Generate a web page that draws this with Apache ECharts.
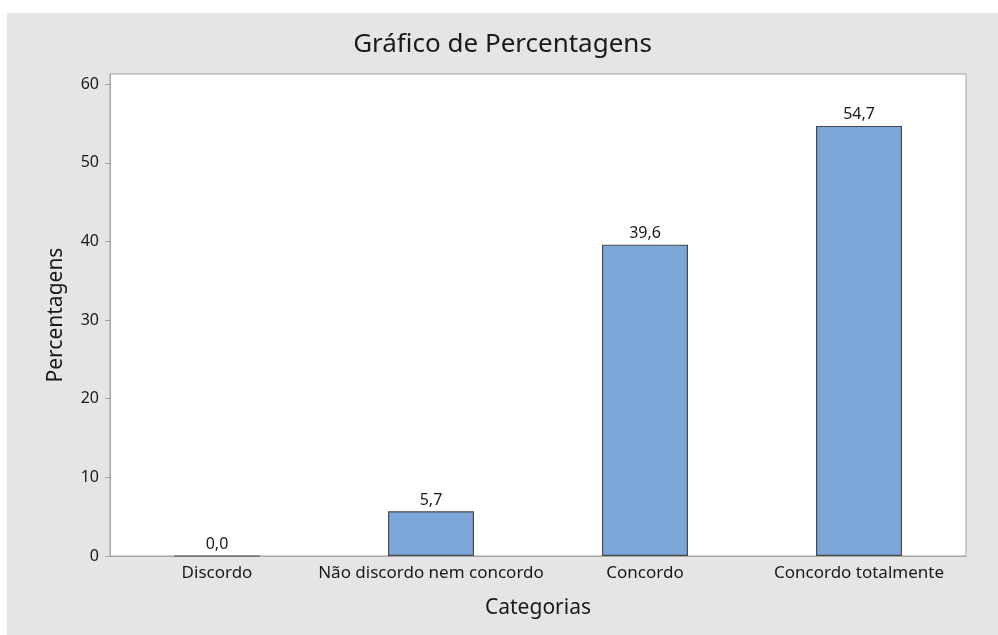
<!DOCTYPE html>
<html>
<head>
<meta charset="utf-8">
<script src="https://cdn.jsdelivr.net/npm/echarts@6/dist/echarts.min.js"></script>
<style>
  html, body { margin: 0; padding: 0; background: #fff; }
  #grafico {
    position: absolute;
    left: 7px;
    top: 13px;
    width: 991px;
    height: 622px;
    background-color: #e5e5e5;
  }
</style>
</head>
<body>
<div id="grafico"></div>
<script>
// dados
var categorias = ["Discordo", "Não discordo nem concordo", "Concordo", "Concordo totalmente"];
var percentagens = [0.0, 5.7, 39.6, 54.7];
var yMin = 0;
var yMax = 61.3;
var yIntervalo = 10;

var fonte = "Noto Sans";
var chart = echarts.init(document.getElementById("grafico"));

var option = {
  animation: false,
  title: {
    text: "Gráfico de Percentagens",
    left: "center",
    top: 14,
    textStyle: { fontFamily: fonte, fontSize: 26, fontWeight: "normal", color: "#1a1a1a" }
  },
  grid: {
    left: 103,
    right: 32,
    top: 61,
    bottom: 79,
    show: true,
    backgroundColor: "#ffffff",
    borderColor: "#a6a6a6",
    borderWidth: 1
  },
  xAxis: {
    type: "category",
    data: categorias,
    name: "Categorias",
    nameLocation: "middle",
    nameGap: 42,
    nameTextStyle: { fontFamily: fonte, fontSize: 21, color: "#1a1a1a" },
    axisLine: { lineStyle: { color: "#a6a6a6" } },
    axisTick: { alignWithLabel: true, length: 5, lineStyle: { color: "#a6a6a6" } },
    axisLabel: { interval: 0, fontFamily: fonte, fontSize: 17, color: "#1a1a1a", margin: 9 }
  },
  yAxis: {
    type: "value",
    min: yMin,
    max: yMax,
    interval: yIntervalo,
    name: "Percentagens",
    nameLocation: "middle",
    nameGap: 43,
    nameTextStyle: { fontFamily: fonte, fontSize: 21, color: "#1a1a1a" },
    splitLine: { show: false },
    axisLine: { show: true, lineStyle: { color: "#a6a6a6" } },
    axisTick: { show: true, length: 5, lineStyle: { color: "#a6a6a6" } },
    axisLabel: { fontFamily: fonte, fontSize: 16, color: "#1a1a1a", margin: 11, showMaxLabel: false }
  },
  series: [
    {
      type: "bar",
      data: percentagens,
      barWidth: 86,
      itemStyle: { color: "#7da6d9", borderColor: "#4a4a4a", borderWidth: 1.2 },
      label: {
        show: true,
        position: "top",
        distance: 3,
        fontFamily: fonte,
        fontSize: 16,
        color: "#1a1a1a",
        formatter: function (p) {
          return p.value.toFixed(1).replace(".", ",");
        }
      }
    }
  ]
};

chart.setOption(option);
</script>
</body>
</html>
